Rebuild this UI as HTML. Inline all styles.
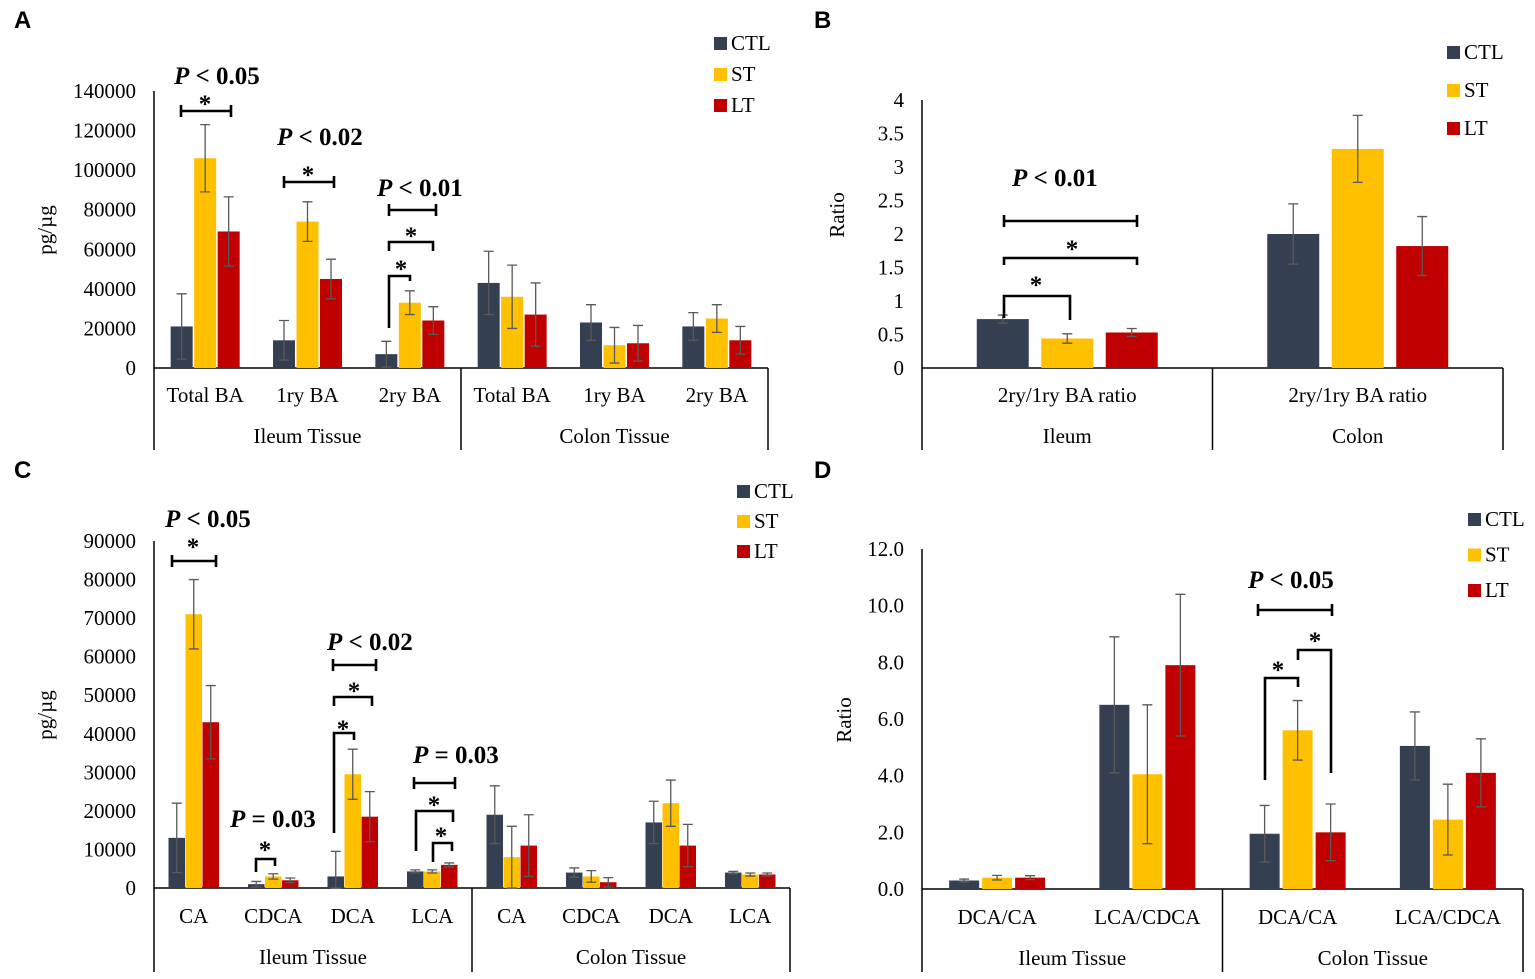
<!DOCTYPE html>
<html><head><meta charset="utf-8"><style>
html,body{margin:0;padding:0;background:#fff;}
svg{display:block;font-family:"Liberation Serif",serif;}
.pl{font-family:"Liberation Sans",sans-serif;font-weight:bold;font-size:24px;}
.tk{font-size:21px;fill:#000;}
.an{font-size:25px;font-weight:bold;}
</style></head><body>
<svg id="fig" width="1535" height="979" viewBox="0 0 1535 979" xmlns="http://www.w3.org/2000/svg"></svg>
<script>
// ---------- Panel A data ----------
const aCategories = ["Total BA","1ry BA","2ry BA","Total BA","1ry BA","2ry BA"];
const aGroups = ["Ileum Tissue","Colon Tissue"];
const aCTL = [21000,14000,7000,43000,23000,21000];
const aST  = [106000,74000,33000,36000,11500,25000];
const aLT  = [69000,45000,24000,27000,12500,14000];
const aCTLerr = [16500,10000,6500,16000,9000,7000];
const aSTerr  = [17000,10000,6000,16000,9000,7000];
const aLTerr  = [17500,10000,7000,16000,9000,7000];
const aTicks = ["0","20000","40000","60000","80000","100000","120000","140000"];
// ---------- Panel B data ----------
const bCategories = ["2ry/1ry BA ratio","2ry/1ry BA ratio"];
const bGroups = ["Ileum","Colon"];
const bCTL = [0.73,2.0];
const bST  = [0.44,3.27];
const bLT  = [0.53,1.82];
const bCTLerr = [0.06,0.45];
const bSTerr  = [0.07,0.5];
const bLTerr  = [0.06,0.44];
const bTicks = ["0","0.5","1","1.5","2","2.5","3","3.5","4"];
// ---------- Panel C data ----------
const cCategories = ["CA","CDCA","DCA","LCA","CA","CDCA","DCA","LCA"];
const cGroups = ["Ileum Tissue","Colon Tissue"];
const cCTL = [13000,1000,3000,4300,19000,4000,17000,4000];
const cST  = [71000,3000,29500,4300,8000,3000,22000,3500];
const cLT  = [43000,2000,18500,6000,11000,1500,11000,3500];
const cCTLerr = [9000,700,6500,400,7500,1200,5500,300];
const cSTerr  = [9000,700,6500,400,8000,1500,6000,400];
const cLTerr  = [9500,600,6500,500,8000,1200,5500,400];
const cTicks = ["0","10000","20000","30000","40000","50000","60000","70000","80000","90000"];
// ---------- Panel D data ----------
const dCategories = ["DCA/CA","LCA/CDCA","DCA/CA","LCA/CDCA"];
const dGroups = ["Ileum Tissue","Colon Tissue"];
const dCTL = [0.3,6.5,1.95,5.05];
const dST  = [0.4,4.05,5.6,2.45];
const dLT  = [0.4,7.9,2.0,4.1];
const dCTLerr = [0.05,2.4,1.0,1.2];
const dSTerr  = [0.08,2.45,1.05,1.25];
const dLTerr  = [0.07,2.5,1.0,1.2];
const dTicks = ["0.0","2.0","4.0","6.0","8.0","10.0","12.0"];

const NS="http://www.w3.org/2000/svg";
const svg=document.getElementById('fig');
const COLORS=["#353f52","#ffc000","#c00000"];
function mk(tag,attrs,parent){const e=document.createElementNS(NS,tag);for(const k in attrs)e.setAttribute(k,attrs[k]);(parent||svg).appendChild(e);return e;}

function panel(p){
  const g=mk('g',{});
  
  
  const yMax=parseFloat(p.ticks[p.ticks.length-1]);
  const ys=v=>p.y0-(v/yMax)*(p.y0-p.yTop);
  const n=p.cats.length;
  const gw=(p.x1-p.x0)/n;
  const xc=i=>p.x0+gw*(i+0.5);
  p.ticks.forEach((t,i)=>{
    const v=parseFloat(t);
    const tx=mk('text',{x:p.x0-18,y:ys(v)+7,'text-anchor':'end',class:'tk'},g);
    tx.textContent=t;
    
    
  });
  const ya=mk('line',{x1:p.x0,y1:p.yTop,x2:p.x0,y2:p.y0,stroke:'#000','stroke-width':1.5},g);
  
  
  const xa=mk('line',{x1:p.x0,y1:p.y0,x2:p.x1,y2:p.y0,stroke:'#000','stroke-width':1.5},g);
  
  
  const half=n/2;
  [0,half,n].forEach(i=>{
    const s=mk('line',{x1:p.x0+gw*i,y1:p.y0,x2:p.x0+gw*i,y2:p.sepBot,stroke:'#000','stroke-width':1.5},g);
    
    
  });
  const series=[p.ctl,p.st,p.lt],errs=[p.ctlE,p.stE,p.ltE],sn=['ctl','st','lt'];
  for(let i=0;i<n;i++){
    for(let s=0;s<3;s++){
      const cx=xc(i)+(s-1)*p.off;
      const v=series[s][i];
      const r=mk('rect',{x:cx-p.bw/2,y:ys(v),width:p.bw,height:p.y0-ys(v),fill:COLORS[s]},g);
      
      
      const e=errs[s][i];
      const top=ys(v+e),bot=ys(Math.max(0,v-e));
      const eg=mk('path',{d:`M${cx},${top}V${bot}M${cx-5},${top}H${cx+5}M${cx-5},${bot}H${cx+5}`,stroke:'#595959','stroke-width':1.3,fill:'none'},g);
      
      
    }
    const ct=mk('text',{x:xc(i),y:p.catY,'text-anchor':'middle',class:'tk'},g);
    ct.textContent=p.cats[i];
    
    
  }
  p.groups.forEach((gn,j)=>{
    const t=mk('text',{x:p.x0+gw*half*(j+0.5),y:p.grpY,'text-anchor':'middle',class:'tk'},g);
    t.textContent=gn;
    
    
  });
  const yt=mk('text',{x:p.ytX,y:p.ytY,'text-anchor':'middle',class:'tk',transform:`rotate(-90 ${p.ytX} ${p.ytY})`},g);
  yt.textContent=p.ytitle;
  
  
  ['CTL','ST','LT'].forEach((l,s)=>{
    const yy=p.legY+s*p.legDy;
    const sq=mk('rect',{x:p.legX,y:yy-6,width:13,height:13,fill:COLORS[s]},g);
    
    
    const t=mk('text',{x:p.legX+17,y:yy+7,class:'tk'},g);
    t.textContent=l;
    
    
  });
  const pl=mk('text',{x:p.lx,y:p.ly,class:'pl'},g);
  pl.textContent=p.letter;
  
  
  return g;
}

panel({name:'panel-a',letter:'A',lx:14,ly:28,cats:aCategories,groups:aGroups,ctl:aCTL,st:aST,lt:aLT,ctlE:aCTLerr,stE:aSTerr,ltE:aLTerr,ticks:aTicks,
 x0:154,x1:768,y0:368,yTop:91,bw:22,off:23.5,catY:402,grpY:443,sepBot:450,ytitle:'pg/µg',ytX:52,ytY:230,legX:714,legY:43,legDy:31});
panel({name:'panel-b',letter:'B',lx:814,ly:28,cats:bCategories,groups:bGroups,ctl:bCTL,st:bST,lt:bLT,ctlE:bCTLerr,stE:bSTerr,ltE:bLTerr,ticks:bTicks,
 x0:922,x1:1503,y0:368,yTop:100,bw:52,off:64.5,catY:402,grpY:443,sepBot:450,ytitle:'Ratio',ytX:844,ytY:215,legX:1447,legY:52,legDy:38});
panel({name:'panel-c',letter:'C',lx:14,ly:478,cats:cCategories,groups:cGroups,ctl:cCTL,st:cST,lt:cLT,ctlE:cCTLerr,stE:cSTerr,ltE:cLTerr,ticks:cTicks,
 x0:154,x1:790,y0:888,yTop:541,bw:16.5,off:17,catY:923,grpY:964,sepBot:972,ytitle:'pg/µg',ytX:52,ytY:715,legX:737,legY:491,legDy:30});
panel({name:'panel-d',letter:'D',lx:814,ly:478,cats:dCategories,groups:dGroups,ctl:dCTL,st:dST,lt:dLT,ctlE:dCTLerr,stE:dSTerr,ltE:dLTerr,ticks:dTicks,
 x0:922,x1:1523,y0:889,yTop:549,bw:30,off:33,catY:924,grpY:965,sepBot:972,ytitle:'Ratio',ytX:851,ytY:720,legX:1468,legY:519,legDy:35.5});

const ann=mk('g',{stroke:'#000','stroke-width':2.6,fill:'none'});


function ibeam(x1,x2,y){mk('path',{d:`M${x1},${y}H${x2}M${x1},${y-6}V${y+6}M${x2},${y-6}V${y+6}`},ann);}
function brk(x1,y1,yt,x2,y2){mk('path',{d:`M${x1},${y1}V${yt}H${x2}V${y2}`},ann);}
const txt=mk('g',{});


function ptxt(x,y,s){const t=mk('text',{x:x,y:y,class:'an'},txt);
 const a=mk('tspan',{'font-style':'italic'},t);a.textContent='P';
 const b=mk('tspan',{},t);b.textContent=s;}
function star(x,y){const t=mk('text',{x:x,y:y+4,'text-anchor':'middle',class:'an','font-size':'32'},txt);t.textContent='*';}
// A
ptxt(174,84,' < 0.05');ibeam(181,231,111);star(205,108);
ptxt(277,145,' < 0.02');ibeam(284,334,182);star(308,179);
ptxt(377,196,' < 0.01');ibeam(389,436,210);star(411,240);
brk(389,251,242,433,251);star(401,273);
brk(389,328,276,410,281);
// B
ptxt(1012,186,' < 0.01');ibeam(1004,1137,221);star(1072,253);
brk(1004,265,258,1137,265);star(1036,289);
brk(1004,318,296,1070,320);
// C
ptxt(165,527,' < 0.05');ibeam(172,216,561);star(193,551);
ptxt(230,827,' = 0.03');brk(256,872,859,275,866);star(265,854);
ptxt(327,650,' < 0.02');ibeam(333,376,665);star(354,695);
brk(334,706,697,372,706);star(343,733);
brk(334,833,733,354,740);
ptxt(413,763,' = 0.03');ibeam(414,455,783);star(434,809);
brk(416,851,811,453,822);star(441,840);
brk(433,862,843,452,851);
// D
ptxt(1248,588,' < 0.05');ibeam(1258,1332,610);star(1315,645);
brk(1298,660,650,1331,773);star(1278,674);
brk(1265,780,678,1298,687);
</script>
</body></html>
